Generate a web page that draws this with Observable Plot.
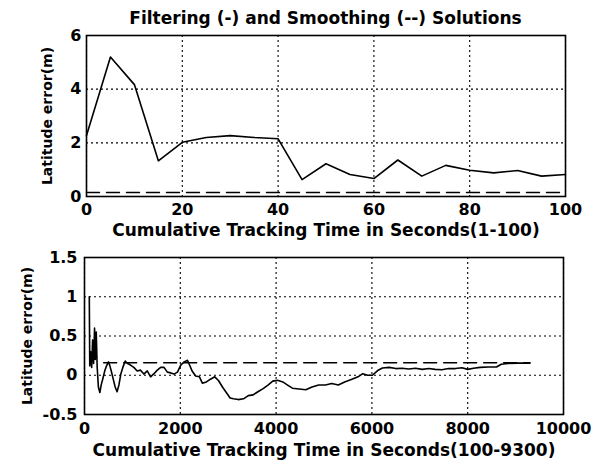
<!DOCTYPE html>
<html><head><meta charset="utf-8">
<script src="https://cdn.jsdelivr.net/npm/d3@7"></script>
<script src="https://cdn.jsdelivr.net/npm/@observablehq/plot@0.6"></script>
<style>
body{margin:0;background:#fff;}
#chart{position:relative;width:602px;height:460px;background:#fff;font-family:"DejaVu Sans",sans-serif;font-weight:bold;color:#000;}
#title{position:absolute;left:86px;width:479px;top:7px;line-height:22px;font-size:17px;text-align:center;white-space:nowrap;}
#p1{position:absolute;top:28px;left:0;}
#p2{position:absolute;top:240px;left:0;}
svg g[aria-label="y-axis label"] text{font-size:14px;}
svg g[aria-label="x-axis label"] text{font-size:17px;}
</style></head><body>
<div id="chart"><div id="title">Filtering (-) and Smoothing (--) Solutions</div><div id="p1"></div><div id="p2"></div></div>
<script>
// ---- Top panel data (1-100 s) ----
const topTime = [0,5,10,15,20,25,30,35,40,45,50,55,60,65,70,75,80,85,90,95,100];
const topFiltering = [2.27,5.2,4.17,1.33,2.02,2.2,2.27,2.2,2.15,0.63,1.22,0.82,0.67,1.36,0.76,1.16,0.98,0.88,0.97,0.76,0.82];
const topSmoothTime = [0,100];
const topSmoothing = [0.15,0.15];
const topXTicks = [0,20,40,60,80,100];
const topXTickLabels = ["0","20","40","60","80","100"];
const topYTicks = [0,2,4,6];
const topYTickLabels = ["0","2","4","6"];

// ---- Bottom panel data (100-9300 s) ----
const bottomTime = [100,110,130,150,170,190,210,225,245,265,290,320,350,380,420,460,500,530,560,600,640,680,720,760,800,850,900,960,1030,1100,1170,1240,1310,1380,1450,1520,1590,1660,1730,1800,1870,1940,2010,2080,2150,2180,2250,2320,2400,2460,2530,2630,2720,2800,2880,2960,3040,3110,3210,3320,3420,3520,3620,3730,3830,3930,4030,4140,4240,4340,4480,4620,4750,4890,5030,5160,5300,5430,5570,5710,5810,5910,6010,6120,6220,6360,6500,6630,6770,6910,7050,7190,7320,7460,7600,7740,7880,8000,8120,8260,8430,8600,8700,8840,9050,9300];
const bottomFiltering = [1.0,0.12,0.3,0.1,0.45,0.15,0.6,0.2,0.55,0.1,-0.15,-0.22,-0.12,-0.05,0.05,0.12,0.17,0.12,0.05,-0.05,-0.15,-0.21,-0.12,0.02,0.1,0.18,0.15,0.13,0.1,0.055,0.065,0.015,0.055,-0.02,0.02,0.065,0.1,0.1,0.04,0.03,0.015,0.04,0.13,0.17,0.19,0.15,0.05,-0.01,-0.02,-0.1,-0.09,-0.05,-0.02,-0.07,-0.15,-0.22,-0.29,-0.3,-0.31,-0.3,-0.26,-0.25,-0.21,-0.17,-0.125,-0.075,-0.065,-0.085,-0.125,-0.165,-0.175,-0.185,-0.15,-0.125,-0.125,-0.105,-0.125,-0.085,-0.055,-0.02,0.02,0,0,0.06,0.093,0.1,0.085,0.09,0.08,0.09,0.075,0.085,0.075,0.07,0.085,0.085,0.095,0.075,0.09,0.1,0.105,0.105,0.14,0.15,0.155,0.155];
const bottomSmoothTime = [400,9300];
const bottomSmoothing = [0.16,0.16];
const bottomXTicks = [0,2000,4000,6000,8000,10000];
const bottomXTickLabels = ["0","2000","4000","6000","8000","10000"];
const bottomYTicks = [-0.5,0,0.5,1,1.5];
const bottomYTickLabels = ["-0.5","0","0.5","1","1.5"];

const yLabel = "Latitude error(m)";

function panel(o) {
  const solid = o.time.map((t, i) => ({t, v: o.values[i]}));
  const dashed = o.sTime.map((t, i) => ({t, v: o.sValues[i]}));
  const grid = {stroke: "black", strokeOpacity: 1, strokeWidth: 1.1, strokeDasharray: "2,3"};
  return Plot.plot({
    width: 602, height: o.height,
    marginTop: o.mt, marginBottom: o.mb, marginLeft: o.ml, marginRight: o.mr,
    style: {fontFamily: '"DejaVu Sans", sans-serif', fontWeight: "bold", fontSize: "16px", color: "black", background: "white", overflow: "visible"},
    x: {domain: o.xDomain},
    y: {domain: o.yDomain},
    marks: [
      Plot.gridX(o.xTicks, grid),
      Plot.gridY(o.yTicks, grid),
      Plot.line(dashed, {x: "t", y: "v", stroke: "black", strokeWidth: 1.4, strokeDasharray: "13,7"}),
      Plot.line(solid, {x: "t", y: "v", stroke: "black", strokeWidth: 1.6}),
      Plot.frame({stroke: "black", strokeWidth: 1.6}),
      Plot.axisX(o.xTicks, {tickSize: 0, tickPadding: o.xPad, tickFormat: d => o.xLabels[o.xTicks.indexOf(d)],
        label: o.xLabel, labelAnchor: "center", labelOffset: o.xLabelOffset, labelArrow: "none"}),
      Plot.axisY(o.yTicks, {tickSize: 0, tickPadding: o.yPad, tickFormat: d => o.yLabels[o.yTicks.indexOf(d)],
        label: yLabel, labelAnchor: "center", labelOffset: o.yLabelOffset, labelArrow: "none"})
    ]
  });
}

document.getElementById("p1").append(panel({
  time: topTime, values: topFiltering, sTime: topSmoothTime, sValues: topSmoothing,
  xDomain: [0,100], yDomain: [0,6], xTicks: topXTicks, xLabels: topXTickLabels, yTicks: topYTicks, yLabels: topYTickLabels,
  xLabel: "Cumulative Tracking Time in Seconds(1-100)",
  height: 212, mt: 7, mb: 44, ml: 86, mr: 37, xPad: 7, yPad: 5, xLabelOffset: 39, yLabelOffset: 44
}));
document.getElementById("p2").append(panel({
  time: bottomTime, values: bottomFiltering, sTime: bottomSmoothTime, sValues: bottomSmoothing,
  xDomain: [0,10000], yDomain: [-0.5,1.5], xTicks: bottomXTicks, xLabels: bottomXTickLabels, yTicks: bottomYTicks, yLabels: bottomYTickLabels,
  xLabel: "Cumulative Tracking Time in Seconds(100-9300)",
  height: 220, mt: 17, mb: 46, ml: 84, mr: 39, xPad: 8, yPad: 7, xLabelOffset: 41, yLabelOffset: 62
}));
</script>
</body></html>
